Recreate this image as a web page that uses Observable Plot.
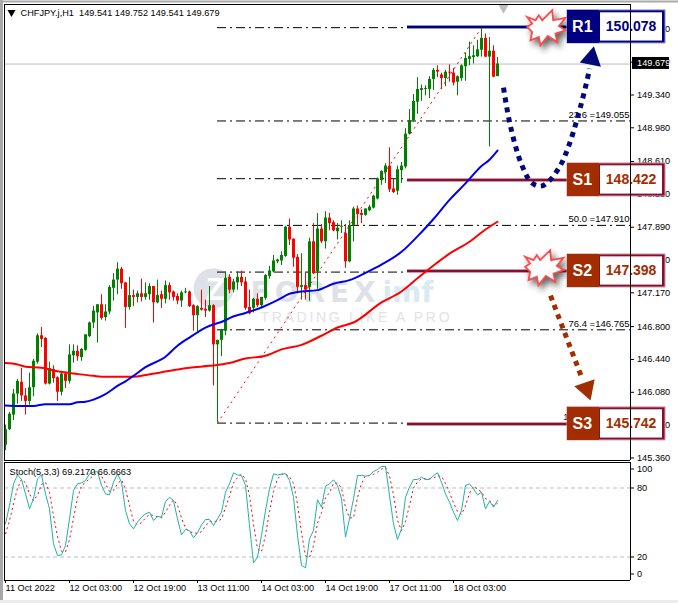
<!DOCTYPE html>
<html><head><meta charset="utf-8">
<style>
html,body{margin:0;padding:0;background:#fff;width:678px;height:603px;overflow:hidden}
#main,#sto{position:absolute;left:0}
#main{top:0}#sto{top:461px}
svg{display:block}
.burst{filter:drop-shadow(3px 4px 3px rgba(0,0,0,.6))}
.track{letter-spacing:2.7px}
.wide{letter-spacing:5px}
</style>
<script src="https://cdn.jsdelivr.net/npm/d3@7"></script>
<script src="https://cdn.jsdelivr.net/npm/@observablehq/plot@0.6"></script>
</head><body><div id="main"></div><div id="sto"></div>
<script>
const open=[145.50,145.67,145.83,146.06,146.19,146.04,145.98,146.13,146.41,146.70,
146.67,146.17,146.33,146.24,146.08,146.28,146.20,146.48,146.53,146.46,
146.54,146.69,146.84,146.95,147.04,146.90,146.96,147.22,147.31,147.43,
147.28,147.01,147.14,147.12,147.16,147.12,147.15,147.24,147.06,147.15,
147.10,147.25,147.18,147.13,147.08,147.17,147.18,147.03,146.92,147.00,
146.99,146.97,147.03,146.60,146.65,146.75,147.34,147.20,147.28,147.34,
147.29,147.01,147.00,147.10,147.03,147.11,147.35,147.40,147.51,147.52,
147.57,147.89,147.76,147.56,147.23,147.25,147.23,147.73,147.40,147.87,
147.73,147.99,147.94,147.84,147.89,147.82,147.51,147.91,148.09,148.04,
148.02,148.07,148.10,148.20,148.40,148.49,148.56,148.31,148.285,148.51,
148.55,148.91,149.06,149.26,149.39,149.40,149.40,149.51,149.61,149.56,
149.52,149.59,149.58,149.48,149.52,149.65,149.73,149.75,149.76,149.83,
149.96,149.755,149.82,149.541];
const high=[145.72,145.86,146.11,146.22,146.34,146.12,146.29,146.44,146.72,146.79,
146.68,146.41,146.37,146.25,146.29,146.30,146.60,146.60,146.59,146.56,
146.71,146.85,147.02,147.04,147.15,147.04,147.25,147.38,147.50,147.45,
147.28,147.34,147.20,147.19,147.32,147.28,147.27,147.24,147.31,147.19,
147.30,147.28,147.19,147.16,147.19,147.22,147.19,147.04,147.03,147.20,
147.09,147.24,147.04,146.65,146.77,147.40,147.37,147.32,147.40,147.41,
147.34,147.20,147.11,147.16,147.12,147.37,147.46,147.58,147.54,147.62,
147.90,147.98,147.76,147.59,147.60,147.40,147.77,147.93,148.04,147.92,
148.06,148.04,147.96,147.93,147.96,147.92,147.96,148.11,148.12,148.08,
148.09,148.13,148.24,148.43,148.51,148.585,148.76,148.42,148.56,148.60,
148.97,149.18,149.345,149.53,149.45,149.44,149.54,149.63,149.66,149.58,
149.61,149.67,149.63,149.55,149.67,149.80,149.92,149.88,149.94,150.065,
150.01,149.97,149.88,149.752];
const low=[145.44,145.66,145.77,145.95,145.98,145.83,145.94,146.03,146.39,146.57,
146.16,146.16,146.18,145.98,146.04,146.12,146.17,146.40,146.42,146.42,
146.53,146.68,146.78,146.62,146.87,146.86,146.93,147.08,147.15,147.21,
146.78,146.98,147.02,147.06,147.07,147.09,147.09,146.84,147.05,147.00,
147.05,147.09,147.08,147.04,147.01,147.16,147.01,146.75,146.74,146.97,
146.90,146.96,146.15,145.75,146.47,146.70,147.16,147.17,147.20,147.24,
146.98,146.93,146.95,147.01,147.01,147.09,147.32,147.39,147.49,147.47,
147.56,147.69,147.45,147.16,147.09,147.09,147.08,147.37,147.21,147.71,
147.65,147.85,147.84,147.75,147.82,147.44,147.50,147.73,147.91,147.93,
148.01,148.06,148.09,148.19,148.35,148.37,148.27,148.26,148.24,148.37,
148.53,148.90,149.04,149.13,149.27,149.33,149.30,149.39,149.53,149.40,
149.43,149.48,149.44,149.33,149.49,149.49,149.66,149.68,149.75,149.755,
149.75,148.77,149.53,149.541];
const close=[145.67,145.84,146.06,146.20,146.04,145.98,146.13,146.42,146.70,146.66,
146.17,146.34,146.23,146.08,146.28,146.20,146.49,146.53,146.47,146.55,
146.71,146.84,146.97,147.04,146.89,146.96,147.23,147.31,147.43,147.27,
147.01,147.14,147.12,147.16,147.12,147.16,147.24,147.06,147.14,147.10,
147.25,147.17,147.12,147.08,147.17,147.18,147.02,146.92,147.02,146.98,
146.97,147.03,146.60,146.65,146.76,147.33,147.20,147.29,147.34,147.28,
147.00,146.94,147.10,147.03,147.12,147.36,147.41,147.52,147.53,147.58,
147.89,147.75,147.55,147.23,147.25,147.20,147.73,147.38,147.87,147.73,
147.99,147.93,147.85,147.88,147.90,147.51,147.91,148.09,148.03,148.02,
148.09,148.11,148.23,148.42,148.50,148.56,148.30,148.27,148.52,148.56,
148.91,149.06,149.27,149.40,149.41,149.41,149.51,149.61,149.59,149.52,
149.59,149.58,149.47,149.54,149.66,149.74,149.76,149.77,149.835,149.96,
149.755,149.82,149.535,149.679];

const blueBar=[0,3,7,10,16,18,20,22,25,28,30,32,35,40,43,46,50,55,56,60,64,68,71,73,78,82,86,90,94,99,103,107,111,115,119,121,123];
const bluePrice=[145.935,145.93,145.93,145.95,145.95,145.97,145.975,146.00,146.06,146.15,146.20,146.26,146.355,146.47,146.59,146.68,146.79,146.87,146.893,146.95,147.01,147.09,147.16,147.18,147.20,147.27,147.31,147.39,147.48,147.62,147.79,147.98,148.19,148.37,148.56,148.63,148.73];
const redBar=[0,3,5,9,13,18,22,25,32,35,39,43,46,51,56,60,65,69,74,79,83,87,94,99,103,107,111,116,120,123];
const redPrice=[146.40,146.385,146.36,146.35,146.31,146.28,146.26,146.25,146.25,146.27,146.30,146.33,146.35,146.37,146.40,146.45,146.48,146.55,146.60,146.70,146.79,146.845,147.065,147.185,147.33,147.47,147.60,147.73,147.865,147.95];

const stochMain=[48.8,64.8,83.6,91.4,87.4,74.9,61.9,70.6,88,91.4,
74.9,61.9,31.5,21.3,21.9,30,53.2,77.8,83.6,84.5,
86.5,92.3,93.8,94.3,82.2,74.9,74,85,92.3,85,
60.4,48.8,44.5,50.3,54.6,57.5,59,51.7,55.5,54.6,
68.3,72,69.1,53.2,39.3,44,42.8,36.7,41,48,
52.6,52.6,47.4,53.2,59,76.4,83.6,93.2,91.4,90.9,
82.2,47.4,14.9,19.9,38.7,60.4,79.3,92.3,91.4,92,
92.6,86.5,72,38.7,12.6,10.6,35.8,43,69.7,63.3,
81.6,83.6,87.1,82.2,70.6,37.3,53.2,70.6,90.9,90.9,
90.3,90.9,94.3,96,98.7,98.7,73.5,48.8,35.2,44.5,
72,80.7,87.4,87.4,89.4,87.4,87.4,90.9,93.2,85,
74.9,67.7,59,51.7,60.4,82.2,83.6,79.3,74,76.4,
61.9,68.5,63.3,69.217];
const stochSignal=[40,51.7,66,80,87.5,84.6,74.7,69,73.6,83,
85,76,56,38,25,24.4,35,53.7,71.5,82,
84.9,88,90.7,93.4,90.4,83.7,77,78,83.7,87,
79,65,51,48,49.8,54,57,56,55,54,
59,65,69.8,65,54,45,42,41,40.5,42,
47,51,51,51,53,63,73,84.4,89,92,
88,73.5,48.5,27.4,24.5,39,59.5,77,87.7,92,
92,90,84,66,41,21,19.7,29.8,49.5,58.7,
71.6,76,84,84.3,80,63,54,54,71.6,84,
90.7,90.7,91.8,93.7,96.3,98,90.3,74.3,52,42.8,
50.6,65,80,85.2,88,88,88,88.5,90.5,90.2,
84,75.9,67.2,59.5,57,64.4,75.4,81.7,79,76.6,
70.8,69,64.6,66.666];

const priceTicks=[150.06,149.70,149.34,148.98,148.61,148.25,147.89,147.53,147.17,146.80,146.44,146.08,145.72,145.36];
const timeTicks=[0,16,32,48,64,80,96,112];
const timeLabels=["11 Oct 2022","12 Oct 03:00","12 Oct 19:00","13 Oct 11:00","14 Oct 03:00","14 Oct 19:00","17 Oct 11:00","18 Oct 03:00"];

const fibPct=["0.0","23.6","38.2","50.0","61.8","76.4","100.0"];
const fibPrice=[150.078,149.055,148.422,147.910,147.398,146.765,145.742];
const fibBar=[53,119], fibEnds=[145.742,150.078];

const boxNames=["R1","S1","S2","S3"];
const boxValues=["150.078","148.422","147.398","145.742"];
const boxCenter=[150.086,148.408,147.41,145.733];
const boxDark=["#000080","#86102f","#86102f","#86102f"];
const boxFill=["#000080","#a12d00","#a12d00","#a12d00"];
const boxPale=["#8f93c6","#cf9aa8","#cf9aa8","#cf9aa8"];
const boxText=["#000080","#a12d00","#a12d00","#a12d00"];
const burstBar=[135,134.5], burstPrice=[150.06,147.43];
const burstShape=[[-55,-37],[-30,-27],[-20,-42],[-10,-27],[20,-57],[23,-27],[60,-34],[40,-10],[60,3],[30,13],[35,38],[7,20],[-15,48],[-20,23],[-45,33],[-40,8],[-55,-7],[-40,-17]];
const navyBar=[124.5,126.25,129,131.5,133.75,135.75,138.75,140.75,143,145.5,146];
const navyPrice=[149.42,148.995,148.58,148.38,148.34,148.39,148.57,148.775,149.09,149.52,149.63];
const brownBar=[136.25,144.25], brownPrice=[147.14,146.22];

const font="Liberation Sans";
const fs=9.2;
const bars=d3.range(open.length);
const isUp=i=>close[i]>=open[i];
const green="#008000",red="#ff0000";
const burst={draw(c,size){const k=Math.sqrt(size/Math.PI)/60;burstShape.forEach(([a,b],j)=>j?c.lineTo(a*k,b*k):c.moveTo(a*k,b*k));c.closePath();}};
const xOpts={type:"linear",domain:[0,156.25],axis:null};
const mL=5,mR=48;

const boxes=d3.range(4);
const main=Plot.plot({
 width:678,height:468,marginLeft:mL,marginRight:mR,marginTop:4,marginBottom:8,
 style:{background:"transparent",fontFamily:font,fontSize:"10px",color:"#000"},
 x:xOpts,
 y:{type:"linear",domain:[145.332,150.332],label:null},
 marks:[
  Plot.axisY({anchor:"right",ticks:priceTicks,tickSize:3,tickPadding:3.5,tickFormat:d3.format(".3f"),label:null,fontSize:fs,tickOpacity:1}),
  // watermark
  Plot.dot([0],{x:()=>52,y:()=>147.22,r:20,fill:"#dfe1e9"}),
  Plot.text(["Z"],{x:()=>52.5,y:()=>147.2,fill:"#fff",fontSize:32,fontWeight:"bold",fontFamily:font}),
  Plot.text(["FOREX"],{x:()=>61.25,y:()=>147.17,fill:"#dfe1e9",fontSize:28,fontWeight:"bold",fontFamily:"DejaVu Sans",textAnchor:"start",className:"wide"}),
  Plot.text(["imf"],{x:()=>94.25,y:()=>147.17,fill:"#d8ebf4",fontSize:28,fontWeight:"bold",fontFamily:"DejaVu Sans",textAnchor:"start"}),
  Plot.text(["TRADING LIKE A PRO"],{x:()=>63.75,y:()=>146.90,fill:"#e1e3e7",fontSize:14,fontFamily:font,textAnchor:"start",className:"track"}),
  // price line + fibo
  Plot.ruleY([149.679],{x1:()=>-0.25,x2:()=>156.25,stroke:"#bdbdbd"}),
  Plot.ruleY(fibPrice,{x1:()=>fibBar[0],x2:()=>156.25,stroke:"#000",strokeDasharray:"9,4,2,4"}),
  Plot.text(fibPct,{x:()=>156,y:(d,i)=>fibPrice[i],text:(d,i)=>d+" ="+fibPrice[i].toFixed(3),textAnchor:"end",dy:-6,fill:"#000",fontSize:9.5,fontFamily:font}),
  // level lines
  Plot.ruleY(boxes,{y:i=>boxCenter[i],x1:()=>100.5,x2:()=>140.5,stroke:i=>boxPale[i],strokeWidth:4}),
  Plot.ruleY(boxes,{y:i=>boxCenter[i],x1:()=>100.5,x2:()=>140.5,stroke:i=>boxDark[i],strokeWidth:2}),
  // candles
  Plot.ruleX(bars,{x:i=>i,y1:i=>low[i],y2:i=>high[i],stroke:i=>isUp(i)?green:red}),
  Plot.ruleX(bars,{x:i=>i,y1:i=>open[i],y2:i=>close[i],stroke:i=>isUp(i)?green:red,strokeWidth:3}),
  // fibo trend + MAs
  Plot.line(fibBar,{x:d=>d,y:(d,i)=>fibEnds[i],stroke:red,strokeWidth:1,strokeLinecap:"butt",strokeDasharray:"2,4"}),
  Plot.line(redBar,{x:d=>d,y:(d,i)=>redPrice[i],stroke:"#f00",strokeWidth:2,curve:"monotone-x"}),
  Plot.line(blueBar,{x:d=>d,y:(d,i)=>bluePrice[i],stroke:"#0000f0",strokeWidth:2,curve:"monotone-x"}),
  // arrows
  Plot.line(navyBar,{x:d=>d,y:(d,i)=>navyPrice[i],stroke:"#000a78",strokeWidth:5,strokeLinecap:"butt",strokeDasharray:"5,5",curve:"catmull-rom"}),
  Plot.dot([0],{x:()=>146.5,y:()=>149.74,symbol:"triangle",r:8,rotate:11,fill:"#000a78"}),
  Plot.line(brownBar,{x:d=>d,y:(d,i)=>brownPrice[i],stroke:"#a12d00",strokeWidth:5,strokeLinecap:"butt",strokeDasharray:"5,5"}),
  Plot.dot([0],{x:()=>145.25,y:()=>146.12,symbol:"triangle",r:8,rotate:161,fill:"#a12d00"}),
  // bursts
  Plot.dot(burstBar,{x:d=>d,y:(d,i)=>burstPrice[i],symbol:burst,r:20,fill:"#fff",stroke:"#ff4a4a",strokeWidth:1.8,className:"burst"}),
  // boxes
  Plot.rect(boxes,{x1:()=>140.5,x2:()=>165,y1:i=>boxCenter[i]-0.181,y2:i=>boxCenter[i]+0.181,fill:i=>boxDark[i],stroke:i=>boxPale[i],strokeWidth:1,inset:0}),
  Plot.rect(boxes,{x1:()=>140.5,x2:()=>148.5,y1:i=>boxCenter[i]-0.181,y2:i=>boxCenter[i]+0.181,fill:i=>boxFill[i]}),
  Plot.rect(boxes,{x1:()=>148.75,x2:()=>164.25,y1:i=>boxCenter[i]-0.155,y2:i=>boxCenter[i]+0.155,fill:"#fff"}),
  Plot.text(boxNames,{x:()=>144.2,y:(d,i)=>boxCenter[i],fill:"#fff",fontSize:16,fontWeight:"bold",fontFamily:font}),
  Plot.text(boxValues,{x:()=>156.4,y:(d,i)=>boxCenter[i],fill:(d,i)=>boxText[i],fontSize:14,fontWeight:"bold",fontFamily:font}),
  // current price tag
  Plot.rect([149.679],{x1:()=>156.75,x2:()=>166,y1:()=>149.62,y2:()=>149.751,fill:"#000"}),
  Plot.text(["149.679"],{x:()=>157.9,y:()=>149.685,fill:"#fff",fontSize:fs,fontFamily:font,textAnchor:"start"}),
  // header
  Plot.text(["CHFJPY.j,H1  149.541 149.752 149.541 149.679"],{x:()=>3.75,y:()=>150.24,fill:"#000",fontSize:fs,fontFamily:font,textAnchor:"start"}),
  Plot.dot([0],{x:()=>1.5,y:()=>150.245,symbol:"triangle",r:3,rotate:180,fill:"#000"}),
  Plot.dot([0],{x:()=>124.5,y:()=>150.30,symbol:"triangle",r:4,rotate:180,fill:"#bdbdbd"}),
  // frames
  Plot.ruleY([150.332,145.332],{x1:()=>-0.25,x2:()=>156.25,stroke:"#000"}),
  Plot.ruleX([-0.25,156.25],{y1:()=>145.332,y2:()=>150.332,stroke:"#000"}),
  Plot.ruleX([-1],{y1:()=>145.321,y2:()=>150.376,stroke:"#a8a8a8",strokeWidth:3}),
  Plot.ruleY([150.365],{x1:()=>-1.25,x2:()=>168.25,stroke:"#a8a8a8",strokeWidth:2})
 ]
});
document.getElementById("main").append(main);

const sto=Plot.plot({
 width:678,height:142,marginLeft:mL,marginRight:mR,marginTop:1,marginBottom:23,
 style:{background:"transparent",fontFamily:font,fontSize:"10px",color:"#000"},
 x:xOpts,
 y:{type:"linear",domain:[-0.43,102.17],label:null},
 marks:[
  Plot.axisY({anchor:"right",ticks:[20,80],tickSize:3,tickPadding:3.5,label:null,fontSize:fs}),
  Plot.axisY({anchor:"right",ticks:[100],tickSize:3,tickPadding:3.5,label:null,fontSize:fs,dy:4}),
  Plot.axisY({anchor:"right",ticks:[0],tickSize:3,tickPadding:3.5,label:null,fontSize:fs,dy:-6}),
  Plot.axisX({anchor:"bottom",ticks:timeTicks,tickFormat:d=>timeLabels[timeTicks.indexOf(d)],tickSize:3,tickPadding:1,textAnchor:"start",label:null,fontSize:fs,tickOpacity:1}),
  Plot.ruleY([80,20],{x1:()=>-0.25,x2:()=>156.25,stroke:"#bdbdbd",strokeDasharray:"4,3"}),
  Plot.line(bars,{x:i=>i,y:i=>stochSignal[i],stroke:"#f00",strokeWidth:1,strokeLinecap:"butt",strokeDasharray:"2,3"}),
  Plot.line(bars,{x:i=>i,y:i=>stochMain[i],stroke:"#20b2aa",strokeWidth:1}),
  Plot.text(["Stoch(5,3,3) 69.2170 66.6663"],{x:()=>1,y:()=>93.5,fill:"#000",fontSize:fs,fontFamily:font,textAnchor:"start"}),
  Plot.ruleY([102.17,-0.43],{x1:()=>-0.25,x2:()=>156.25,stroke:"#000"}),
  Plot.ruleX([-0.25,156.25],{y1:()=>-0.43,y2:()=>102.17,stroke:"#000"}),
  Plot.ruleX([-1],{y1:()=>-19.5,y2:()=>103,stroke:"#a8a8a8",strokeWidth:3}),
  Plot.ruleY([-19.5],{x1:()=>-1.25,x2:()=>168.25,stroke:"#ececec",strokeWidth:5})
 ]
});
document.getElementById("sto").append(sto);
</script></body></html>
